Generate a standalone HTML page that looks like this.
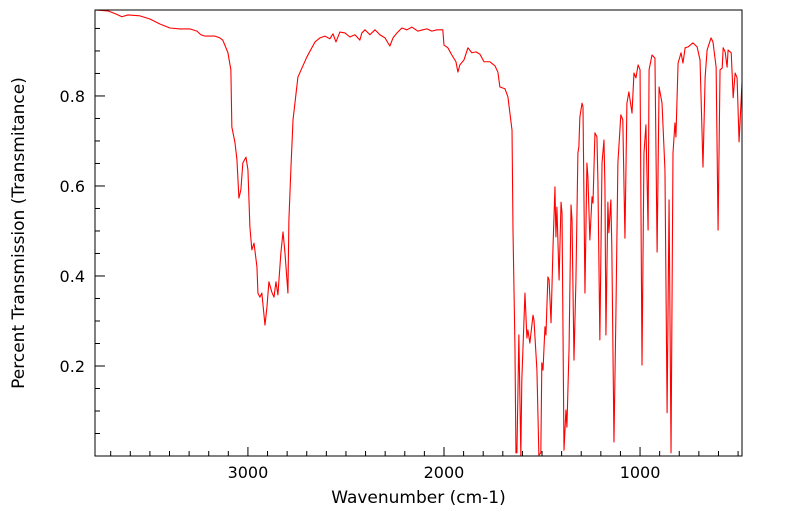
<!DOCTYPE html>
<html><head><meta charset="utf-8"><style>
html,body{margin:0;padding:0;background:#fff;}
svg{display:block;font-family:"DejaVu Sans","Liberation Sans",sans-serif;}
</style></head><body>
<svg id="chart" width="799" height="516" viewBox="0 0 799 516" xmlns="http://www.w3.org/2000/svg">
<g id="axes"></g>
<path id="series" fill="none" stroke="#ff0000" stroke-width="1.1" stroke-linejoin="round"></path>
<rect x="95" y="10" width="647" height="446" fill="none" stroke="#000" stroke-width="1"/>
<text x="418.5" y="503" font-size="17" text-anchor="middle">Wavenumber (cm-1)</text>
<text transform="translate(24,233) rotate(-90)" font-size="17" text-anchor="middle">Percent Transmission (Transmitance)</text>
</svg>
<script>
const wavenumbers=[3780,3714,3673,3643,3612,3551,3500,3449,3398,3347,3296,3260,3240,3219,3168,3143,3128,3102,3087,3082,3066,3056,3046,3036,3026,3010,3000,2990,2980,2969,2954,2949,2939,2929,2913,2903,2893,2878,2867,2857,2847,2832,2821,2811,2796,2791,2781,2770,2745,2699,2658,2633,2607,2582,2566,2551,2531,2505,2480,2454,2429,2419,2403,2378,2352,2327,2301,2276,2260,2240,2215,2189,2164,2133,2108,2087,2062,2036,2006,2000,1980,1960,1939,1929,1919,1898,1878,1858,1837,1817,1796,1766,1740,1725,1715,1689,1674,1653,1648,1638,1633,1628,1618,1608,1603,1587,1577,1572,1562,1546,1541,1526,1516,1506,1501,1495,1485,1480,1470,1464,1454,1444,1434,1429,1424,1413,1403,1398,1388,1378,1373,1362,1352,1347,1337,1327,1317,1312,1307,1296,1291,1281,1271,1266,1256,1245,1240,1230,1220,1215,1205,1194,1184,1179,1174,1164,1159,1149,1144,1133,1123,1113,1098,1088,1077,1067,1057,1041,1031,1021,1010,1000,990,980,970,959,954,939,924,913,903,888,873,862,852,842,832,822,817,806,791,781,770,755,730,709,694,679,668,658,638,628,612,602,592,581,576,566,556,551,535,525,515,505,495,480];
const transmittance=[0.991,0.989,0.982,0.976,0.980,0.978,0.971,0.960,0.951,0.949,0.949,0.944,0.936,0.933,0.933,0.929,0.924,0.896,0.858,0.731,0.696,0.658,0.573,0.591,0.651,0.664,0.636,0.509,0.458,0.473,0.420,0.362,0.353,0.362,0.291,0.331,0.387,0.364,0.353,0.387,0.358,0.451,0.498,0.451,0.362,0.524,0.636,0.747,0.842,0.887,0.920,0.929,0.933,0.927,0.938,0.920,0.942,0.940,0.931,0.936,0.924,0.940,0.947,0.936,0.947,0.936,0.929,0.911,0.929,0.940,0.951,0.947,0.953,0.944,0.947,0.949,0.944,0.947,0.947,0.913,0.907,0.891,0.876,0.853,0.869,0.880,0.907,0.896,0.898,0.893,0.876,0.876,0.867,0.853,0.820,0.816,0.798,0.724,0.502,0.242,0.007,0.007,0.269,0.002,0.169,0.362,0.262,0.280,0.251,0.313,0.302,0.191,0.002,0.007,0.207,0.191,0.287,0.269,0.398,0.391,0.296,0.464,0.598,0.487,0.553,0.391,0.564,0.540,0.013,0.102,0.064,0.242,0.558,0.524,0.213,0.391,0.673,0.687,0.753,0.784,0.776,0.362,0.651,0.620,0.480,0.576,0.562,0.718,0.709,0.613,0.258,0.651,0.702,0.598,0.269,0.564,0.496,0.569,0.464,0.031,0.318,0.651,0.758,0.747,0.484,0.784,0.809,0.762,0.851,0.840,0.869,0.858,0.202,0.673,0.736,0.502,0.858,0.891,0.884,0.453,0.820,0.784,0.636,0.096,0.569,0.007,0.673,0.740,0.709,0.873,0.896,0.873,0.907,0.909,0.918,0.909,0.880,0.642,0.842,0.902,0.929,0.920,0.864,0.502,0.858,0.862,0.907,0.898,0.864,0.902,0.896,0.796,0.851,0.840,0.698,0.829];
const xTickLabels=[3000,2000,1000];
const yTickLabels=[0.2,0.4,0.6,0.8];
const xDomain=[3780,480];
const yDomain=[0,0.991];

const PL=95,PR=742,PT=10,PB=456;
function xScale(v){return PL+(v-xDomain[0])/(xDomain[1]-xDomain[0])*(PR-PL);}
function yScale(v){return PB-(v-yDomain[0])/(yDomain[1]-yDomain[0])*(PB-PT);}

const NS='http://www.w3.org/2000/svg';
const axes=document.getElementById('axes');
function line(x1,y1,x2,y2,name){
  const l=document.createElementNS(NS,'line');
  l.setAttribute('x1',x1);l.setAttribute('y1',y1);l.setAttribute('x2',x2);l.setAttribute('y2',y2);
  l.setAttribute('stroke','#000');l.setAttribute('stroke-width','1');
  
  
  axes.appendChild(l);
}
function text(x,y,s,anchor,name){
  const t=document.createElementNS(NS,'text');
  t.setAttribute('x',x);t.setAttribute('y',y);t.setAttribute('font-size','16');
  t.setAttribute('text-anchor',anchor);t.textContent=s;
  
  
  axes.appendChild(t);
}
// x minor ticks every 100
for(let w=3700;w>=500;w-=100){
  const x=xScale(w);
  const major=w%1000===0;
  line(x,PB,x,PB-(major?9:5),'x-tick');
}
xTickLabels.forEach(v=>text(xScale(v),PB+22,String(v),'middle','x-tick-label'));
// y ticks every 0.05
for(let k=1;k<20;k++){
  const v=k*0.05;
  const y=yScale(v);
  const major=k%4===0;
  line(PL,y,PL+(major?10:5),y,'y-tick');
}
yTickLabels.forEach(v=>text(PL-10,yScale(v)+6,v.toFixed(1),'end','y-tick-label'));

let d='';
for(let i=0;i<wavenumbers.length;i++){
  d+=(i?'L':'M')+xScale(wavenumbers[i]).toFixed(2)+','+yScale(transmittance[i]).toFixed(2);
}
document.getElementById('series').setAttribute('d',d);
</script>
</body></html>
